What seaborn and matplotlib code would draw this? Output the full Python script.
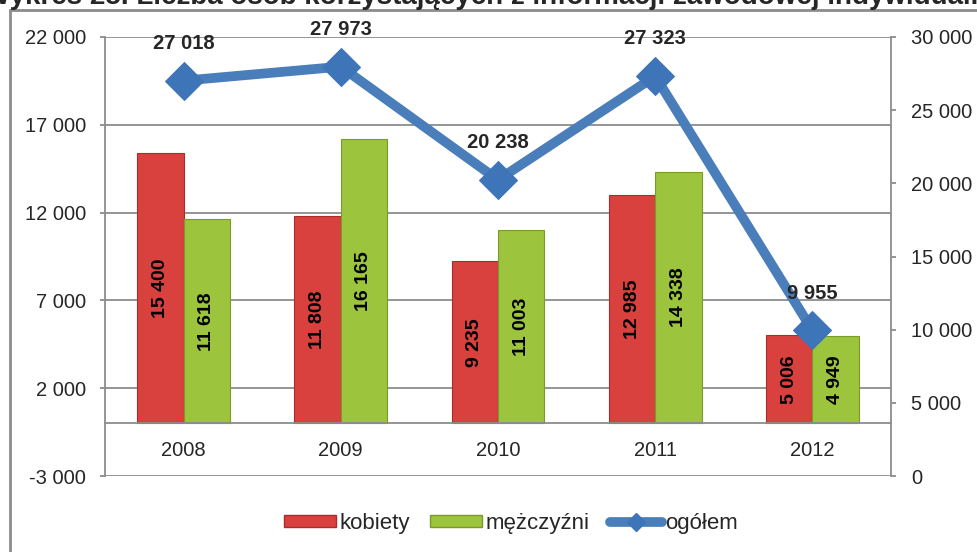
import numpy as np
import pandas as pd
import matplotlib.pyplot as plt
import seaborn as sns
from matplotlib.patches import Patch, Rectangle
from matplotlib.lines import Line2D
from matplotlib.ticker import FuncFormatter, FixedLocator

# Dane
lata = ['2008', '2009', '2010', '2011', '2012']
kobiety = [15400, 11808, 9235, 12985, 5006]
mezczyzni = [11618, 16165, 11003, 14338, 4949]
ogolem = [27018, 27973, 20238, 27323, 9955]

seria = ['kobiety', 'mężczyźni']
kolory = ['#D9413E', '#9CC43C']
krawedzie = ['#A92C2A', '#7A9A2A']
kolor_linii = '#4A7EBB'
szary = '#8C8C8C'

df = pd.DataFrame({
    'rok': lata * 2,
    'płeć': [seria[0]] * len(lata) + [seria[1]] * len(lata),
    'liczba': kobiety + mezczyzni,
})

sns.set_style('white')
plt.rcParams['font.family'] = ['Liberation Sans', 'DejaVu Sans']


def fmt(v, pos=None):
    return f'{int(v):,}'.replace(',', ' ')


fig = plt.figure(figsize=(9.77, 5.52), dpi=100)
ax = fig.add_axes([105 / 977, 1 - 476 / 552, 786 / 977, 439 / 552])

sns.barplot(data=df, x='rok', y='liczba', hue='płeć', palette=kolory,
            saturation=1, width=0.59, gap=0, ax=ax, legend=False)
for cont, kraw in zip(ax.containers, krawedzie):
    for bar in cont:
        bar.set_edgecolor(kraw)
        bar.set_linewidth(0.8)

# Etykiety na słupkach
for cont in ax.containers:
    for bar in cont:
        h = bar.get_height()
        ax.text(bar.get_x() + bar.get_width() / 2, h / 2, fmt(h),
                rotation=90, ha='center', va='center',
                fontsize=14, fontweight='bold', color='black')

ax.set_ylim(-3000, 22000)
ax.set_xlim(-0.5, 4.5)
ax.set_yticks(np.arange(-3000, 22001, 5000))
ax.yaxis.set_major_formatter(FuncFormatter(fmt))
ax.set_xlabel('')
ax.set_ylabel('')
ax.yaxis.grid(True, color=szary, lw=1.3)
ax.set_axisbelow(True)

ax.spines['bottom'].set_position(('data', 0))
ax.spines['bottom'].set_color(szary)
ax.spines['bottom'].set_linewidth(1.3)
ax.spines['left'].set_color(szary)
ax.spines['left'].set_linewidth(1.3)
ax.spines['top'].set_visible(False)
ax.spines['right'].set_visible(False)
ax.xaxis.set_minor_locator(FixedLocator([0.5, 1.5, 2.5, 3.5]))
ax.tick_params(axis='x', which='major', length=0, pad=13, labelsize=14.5)
ax.tick_params(axis='x', which='minor', length=6, width=1.3, color=szary, direction='out')
ax.tick_params(axis='y', length=3.6, width=1.3, color=szary, pad=10, labelsize=14.5)

# Oś prawa – ogółem
ax2 = ax.twinx()
sns.lineplot(x=np.arange(len(lata)), y=ogolem, ax=ax2, color=kolor_linii,
             linewidth=7, marker='D', markersize=19,
             markerfacecolor='#3E74B8', markeredgecolor='#3E74B8')
ax2.set_ylim(0, 30000)
ax2.set_xlim(-0.5, 4.5)
ax2.set_yticks(np.arange(0, 30001, 5000))
ax2.yaxis.set_major_formatter(FuncFormatter(fmt))
ax2.tick_params(axis='y', length=3.6, width=1.3, color=szary, pad=11, labelsize=14.5)
for s in ['top', 'bottom', 'left']:
    ax2.spines[s].set_visible(False)
ax2.spines['right'].set_color(szary)
ax2.spines['right'].set_linewidth(1.3)

for i, v in enumerate(ogolem):
    ax2.annotate(fmt(v), (i, v), xytext=(0, 20), textcoords='offset points',
                 ha='center', va='bottom', fontsize=14.5, fontweight='bold',
                 annotation_clip=False)

# Legenda
uchwyty = [
    Patch(facecolor=kolory[0], edgecolor=krawedzie[0]),
    Patch(facecolor=kolory[1], edgecolor=krawedzie[1]),
    Line2D([0], [0], color=kolor_linii, lw=7, marker='D', markersize=9,
           markerfacecolor='#3E74B8', markeredgecolor='#3E74B8'),
]
fig.legend(uchwyty, ['kobiety', 'mężczyźni', 'ogółem'], loc='center',
           bbox_to_anchor=(511 / 977, 1 - 523 / 552), ncol=3, frameon=False,
           fontsize=16, handlelength=2.35, handleheight=0.45, handletextpad=0.15,
           columnspacing=0.9)

# Ramka wykresu i ucięty tytuł
fig.patches.append(Rectangle((10 / 977, -0.1), 1.2, 1 - 10 / 552 + 0.1,
                             transform=fig.transFigure, fill=False,
                             edgecolor=szary, lw=2))
fig.text(-16 / 977, 1 - 4 / 552,
         'Wykres 25. Liczba osób korzystających z informacji zawodowej indywidualnej',
         fontsize=20, fontweight='bold', ha='left', va='baseline')

fig.savefig('out.png', dpi=100)
